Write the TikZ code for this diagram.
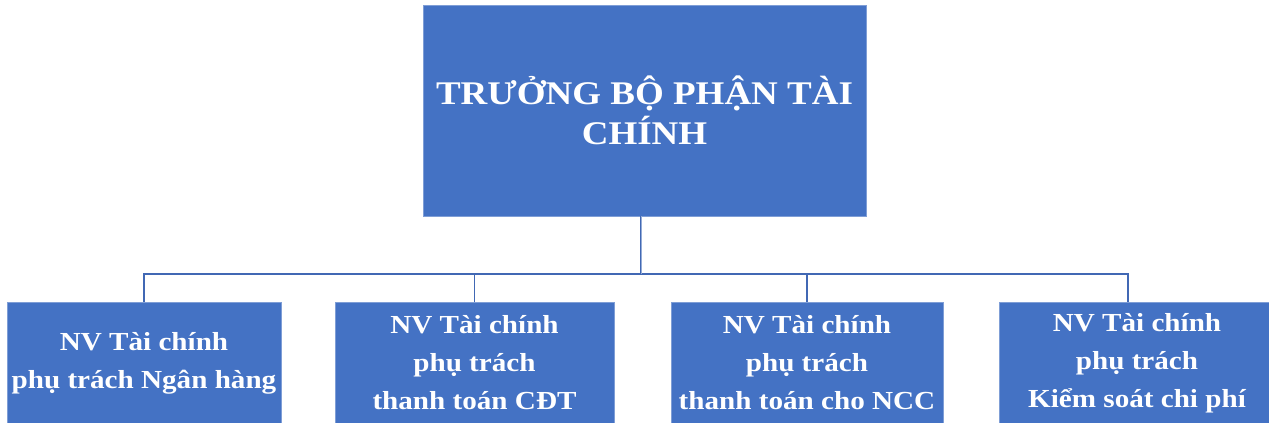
\documentclass[tikz,border=0pt]{standalone}
\usepackage{fontspec}
\setmainfont{Liberation Serif}[FakeStretch=1.12]
\definecolor{boxblue}{HTML}{4472C4}
\definecolor{edgeblue}{HTML}{7F9ED6}
\definecolor{lineblue}{HTML}{4168B4}
\begin{document}
\begin{tikzpicture}[x=0.03cm,y=-0.03cm,
  boxnode/.style={rectangle,fill=boxblue,draw=edgeblue,line width=0.4pt,text=white,
    font=\bfseries\fontsize{22.2}{32.5}\selectfont,align=center,inner sep=0pt},
  conn/.style={draw=lineblue,line width=1.4pt},
  stem/.style={draw=lineblue,line width=0.9pt,double=lineblue!55!white,double distance=0.7pt}]
\useasboundingbox (0,0) rectangle (1269,423);
\node[boxnode,minimum width=443*0.03cm,minimum height=211*0.03cm,
  font=\bfseries\fontsize{28.2}{34.2}\selectfont] (top) at (644.5,110.5)
  {TRƯỞNG BỘ PHẬN TÀI\\CHÍNH};
\node[boxnode,minimum width=274*0.03cm,minimum height=122*0.03cm] (b1) at (144,363)
  {NV Tài chính\\phụ trách Ngân hàng};
\node[boxnode,minimum width=279*0.03cm,minimum height=122*0.03cm] (b2) at (474.5,363)
  {NV Tài chính\\phụ trách\\thanh toán CĐT};
\node[boxnode,minimum width=272*0.03cm,minimum height=122*0.03cm] (b3) at (807,363)
  {NV Tài chính\\phụ trách\\thanh toán cho NCC};
\node[boxnode,minimum width=276*0.03cm,minimum height=122*0.03cm] (b4) at (1137,363)
  {NV Tài chính\\phụ trách\\Kiểm soát chi phí};
\coordinate (j) at (641,274);
\coordinate (d4) at (1128,302);
\draw[conn] (b1.north) |- (j) -| (d4);
\draw[conn] (b2.north) -- (b2.north |- j);
\draw[conn] (b3.north) -- (b3.north |- j);
\draw[stem] (top.south -| j) -- (j);
\end{tikzpicture}
\end{document}
